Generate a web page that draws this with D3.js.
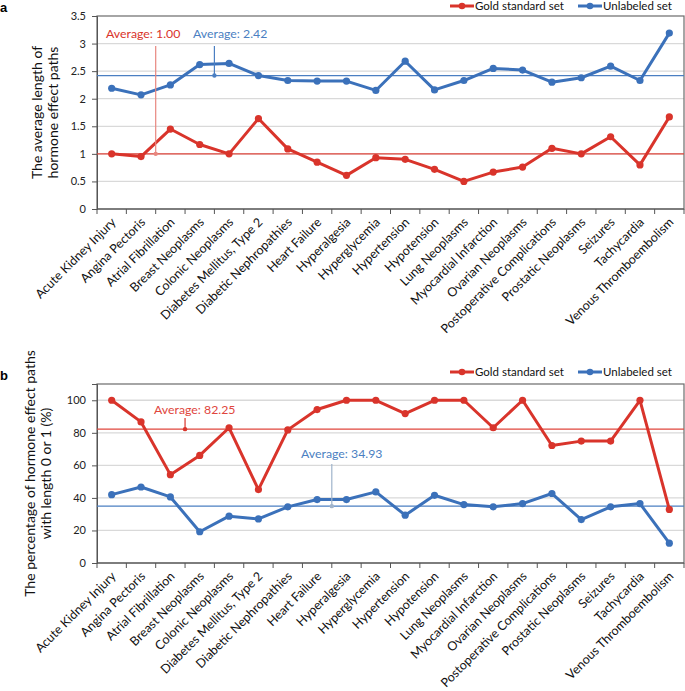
<!DOCTYPE html>
<html><head><meta charset="utf-8">
<script src="https://cdn.jsdelivr.net/npm/d3@7"></script>
<style>body{margin:0;background:#fff}svg{display:block;font-family:Lato,"Open Sans",sans-serif}</style>
</head><body>
<svg id="c" width="685" height="691"></svg>
<script>
const categories = ["Acute Kidney Injury","Angina Pectoris","Atrial Fibrillation","Breast Neoplasms","Colonic Neoplasms","Diabetes Mellitus, Type 2","Diabetic Nephropathies","Heart Failure","Hyperalgesia","Hyperglycemia","Hypertension","Hypotension","Lung Neoplasms","Myocardial Infarction","Ovarian Neoplasms","Postoperative Complications","Prostatic Neoplasms","Seizures","Tachycardia","Venous Thromboembolism"];
const goldA = [1.00,0.95,1.45,1.17,1.00,1.64,1.09,0.85,0.61,0.93,0.90,0.72,0.50,0.67,0.76,1.10,1.00,1.31,0.80,1.67];
const unlabeledA = [2.19,2.07,2.25,2.62,2.64,2.42,2.33,2.32,2.32,2.15,2.68,2.16,2.33,2.55,2.52,2.30,2.38,2.59,2.33,3.19];
const goldB = [100,86.7,54.3,66.1,83.1,45.1,81.8,94.3,100,100,91.8,100,100,83.1,100,72.2,74.9,74.9,100,32.9];
const unlabeledB = [42.0,46.7,40.6,19.2,28.8,27.1,34.5,39.0,39.0,43.7,29.4,41.6,35.9,34.5,36.5,42.7,26.7,34.5,36.5,12.2];
const ticksA = [0,0.5,1,1.5,2,2.5,3,3.5];
const ticksB = [0,20,40,60,80,100];
const avgA = {gold:1.00, unlabeled:2.42};
const avgB = {gold:82.25, unlabeled:34.93};
const seriesNames = ["Gold standard set","Unlabeled set"];

const RED="#d9342b", BLUE="#3b71ba";
const svg = d3.select("#c");

function panel(o){
  const g = svg.append("g");
  const x = d3.scaleBand().domain(categories).range([o.left,o.right]);
  const y = d3.scaleLinear().domain(o.domain).range([o.bottom,o.top]);
  // gridlines
  g.selectAll(".grid").data(o.ticks.filter(t=>t>o.domain[0]&&t<o.domain[1])).join("line")
    .attr("x1",o.left).attr("x2",o.right).attr("y1",d=>y(d)).attr("y2",d=>y(d))
    .attr("stroke","#d9d9d9").attr("stroke-width",1.3);
  // frame
  g.append("rect").attr("x",o.left).attr("y",o.top).attr("width",o.right-o.left).attr("height",o.bottom-o.top)
    .attr("fill","none").attr("stroke","#6b6b6b").attr("stroke-width",1.2);
  // y axis
  const ya = g.append("g").attr("transform",`translate(${o.left},0)`)
    .call(d3.axisLeft(y).tickValues(o.ticks).tickSize(5).tickPadding(6).tickFormat(d=>d3.format("")(d)));
  ya.select(".domain").attr("stroke","#555");
  ya.selectAll(".tick line").attr("stroke","#555");
  ya.selectAll("text").attr("font-size",11).attr("fill","#222").attr("font-family","Lato");
  // x axis ticks at boundaries
  const bounds = categories.map(c=>x(c)).concat([o.right]);
  g.selectAll(".xt").data(bounds).join("line")
    .attr("x1",d=>d).attr("x2",d=>d).attr("y1",o.bottom).attr("y2",o.bottom+5).attr("stroke","#555");
  g.append("line").attr("x1",o.left).attr("x2",o.right).attr("y1",o.bottom).attr("y2",o.bottom).attr("stroke","#555").attr("stroke-width",1.2);
  // x labels
  g.selectAll(".xl").data(categories).join("text")
    .attr("transform",d=>`translate(${x(d)+x.bandwidth()/2+5},${o.bottom+14}) rotate(-45)`)
    .attr("text-anchor","end").attr("font-size",12.5).attr("fill","#111").text(d=>d);
  // avg lines
  g.append("line").attr("x1",o.left).attr("x2",o.right).attr("y1",y(o.avg.gold)).attr("y2",y(o.avg.gold)).attr("stroke","#e0463d").attr("stroke-width",1.2);
  g.append("line").attr("x1",o.left).attr("x2",o.right).attr("y1",y(o.avg.unlabeled)).attr("y2",y(o.avg.unlabeled)).attr("stroke","#4b7fc2").attr("stroke-width",1.2);
  // series
  const line = d3.line().x((d,i)=>x(categories[i])+x.bandwidth()/2).y(d=>y(d));
  [[o.gold,RED],[o.unl,BLUE]].forEach(([vals,col])=>{
    g.append("path").attr("d",line(vals)).attr("fill","none").attr("stroke",col).attr("stroke-width",3).attr("stroke-linejoin","round");
    g.selectAll(null).data(vals).join("circle").attr("cx",(d,i)=>x(categories[i])+x.bandwidth()/2).attr("cy",d=>y(d)).attr("r",3.6).attr("fill",col);
  });
  // annotations
  o.ann.forEach(a=>{
    const lx = x(categories[a.cat]);
    g.append("line").attr("x1",lx).attr("x2",lx).attr("y1",a.y0).attr("y2",y(a.val)).attr("stroke",a.lc).attr("stroke-width",1.2);
    g.append("circle").attr("cx",lx).attr("cy",y(a.val)).attr("r",2.2).attr("fill",a.lc);
    g.append("text").attr("x",a.tx).attr("y",a.ty).attr("font-size",12.3).attr("fill",a.tc).text("Average: "+d3.format(".2f")(a.val));
  });
  // legend
  const ly=o.legY;
  [[450,RED,seriesNames[0]],[578,BLUE,seriesNames[1]]].forEach(([lx,col,name])=>{
    g.append("line").attr("x1",lx).attr("x2",lx+24).attr("y1",ly).attr("y2",ly).attr("stroke",col).attr("stroke-width",3);
    g.append("circle").attr("cx",lx+12).attr("cy",ly).attr("r",3.3).attr("fill",col);
    g.append("text").attr("x",lx+25).attr("y",ly+4.2).attr("font-size",11.5).attr("fill","#111").text(name);
  });
  // panel label
  g.append("text").attr("x",0).attr("y",o.labY).attr("font-size",13).attr("font-weight","bold").attr("font-family","Liberation Sans").text(o.label);
  // y title
  const cy=(o.top+o.bottom)/2;
  o.title.forEach((t,i)=>{
    g.append("text").attr("transform",`translate(${o.titleX[i]},${cy}) rotate(-90)`).attr("text-anchor","middle")
      .attr("font-size",14).attr("fill","#111").text(t);
  });
}

panel({left:97,right:684,top:16,bottom:209,domain:[0,3.5],ticks:ticksA,gold:goldA,unl:unlabeledA,avg:avgA,
  ann:[{cat:2,val:avgA.gold,y0:46,lc:"#e8877f",tc:"#d9342b",tx:106,ty:38},{cat:4,val:avgA.unlabeled,y0:46,lc:"#4b7fc2",tc:"#4b7fc2",tx:193,ty:38}],
  legY:6,label:"a",labY:12,title:["The average length of","hormone effect paths"],titleX:[42,58]});
panel({left:97,right:684,top:384,bottom:563,domain:[0,110],ticks:ticksB,gold:goldB,unl:unlabeledB,avg:avgB,
  ann:[{cat:3,val:avgB.gold,y0:418,lc:"#d9342b",tc:"#e0463d",tx:154,ty:414},{cat:8,val:avgB.unlabeled,y0:464,lc:"#9fb3cb",tc:"#4b7fc2",tx:301,ty:458}],
  legY:372,label:"b",labY:380,title:["The percentage of hormone effect paths","with length 0 or 1 (%)"],titleX:[35,51]});
</script>
</body></html>
